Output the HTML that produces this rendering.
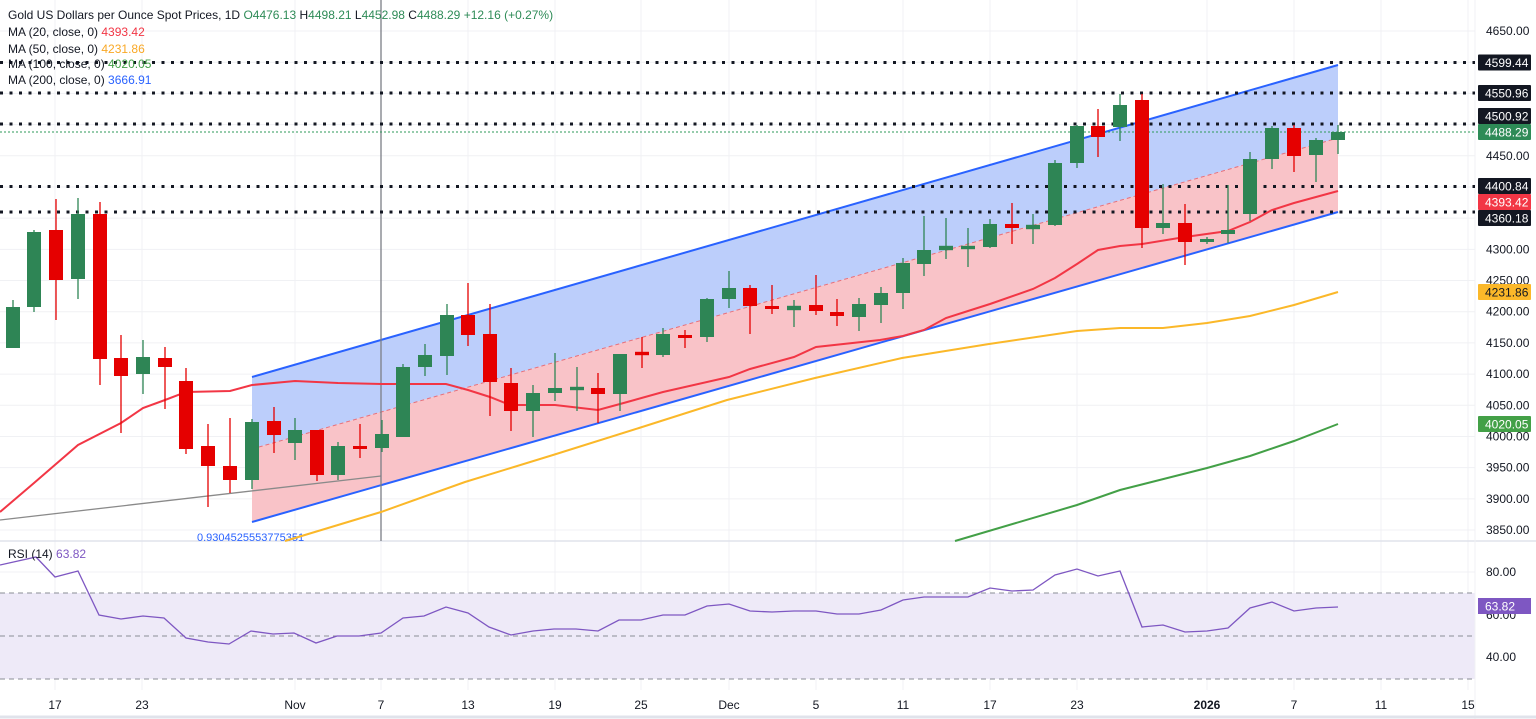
<!DOCTYPE html>
<html><head><meta charset="utf-8"><style>
html,body{margin:0;padding:0;background:#fff;}
svg{display:block;font-family:"Liberation Sans",sans-serif;}
</style></head><body>
<svg id="s" width="1536" height="719" viewBox="0 0 1536 719" xmlns="http://www.w3.org/2000/svg">
<rect width="1536" height="719" fill="#fff"/>
<g id="grid" stroke="#f0f1f4" stroke-width="1"></g>
<!-- RSI band -->
<rect x="0" y="593" width="1475" height="86" fill="#eeeaf8"/>
<g stroke="#8a8d96" stroke-width="1" stroke-dasharray="5,4">
<line x1="0" y1="593" x2="1475" y2="593"/><line x1="0" y1="636" x2="1475" y2="636"/><line x1="0" y1="679" x2="1475" y2="679"/>
</g>
<line x1="0" y1="541" x2="1536" y2="541" stroke="#e0e3eb" stroke-width="1.5"/>
<line x1="1475" y1="0" x2="1475" y2="719" stroke="#f0f1f4"/>
<!-- channel -->
<polygon points="252,377 1338,65 1338,138 252,449" fill="#bccefb"/>
<polygon points="252,449 1338,138 1338,212 252,522" fill="#f9c3c8"/>
<line x1="252" y1="449" x2="1338" y2="138" stroke="#e8707a" stroke-width="1" stroke-dasharray="4,3"/>
<line x1="252" y1="377" x2="1338" y2="65" stroke="#2962ff" stroke-width="2"/>
<line x1="252" y1="522" x2="1338" y2="212" stroke="#2962ff" stroke-width="2"/>
<line x1="0" y1="520" x2="381" y2="476" stroke="#8a8a8a" stroke-width="1.3"/>
<line x1="381" y1="0" x2="381" y2="541" stroke="#7b7e86" stroke-width="1.3"/>
<text x="197" y="541" font-size="11" fill="#2962ff">0.9304525553775351</text>
<!-- dotted levels -->
<g stroke="#131722" stroke-width="3" stroke-dasharray="3,6.5">
<line x1="0" y1="62.5" x2="1475" y2="62.5"/><line x1="0" y1="93" x2="1475" y2="93"/><line x1="0" y1="124" x2="1475" y2="124"/><line x1="0" y1="186.5" x2="1475" y2="186.5"/><line x1="0" y1="212" x2="1475" y2="212"/>
</g>
<line x1="0" y1="132" x2="1475" y2="132" stroke="#2e9a5a" stroke-width="1" stroke-dasharray="2,2"/>
<g id="ma" fill="none" stroke-width="2"></g>
<g id="c"></g>
<polyline id="rsi" fill="none" stroke="#7e57c2" stroke-width="1.3"/>
<!-- legend -->
<g font-size="12" fill="#131722">
<text x="8" y="19">Gold US Dollars per Ounce Spot Prices, 1D <tspan fill="#2e8b57">O</tspan><tspan fill="#2e8b57">4476.13</tspan>  H<tspan fill="#2e8b57">4498.21</tspan>  L<tspan fill="#2e8b57">4452.98</tspan>  C<tspan fill="#2e8b57">4488.29</tspan>  <tspan fill="#2e8b57">+12.16 (+0.27%)</tspan></text>
<text x="8" y="36">MA (20, close, 0)  <tspan fill="#f23645">4393.42</tspan></text>
<text x="8" y="53">MA (50, close, 0)  <tspan fill="#f9a825">4231.86</tspan></text>
<text x="8" y="68">MA (100, close, 0)  <tspan fill="#43a047">4020.05</tspan></text>
<text x="8" y="84">MA (200, close, 0)  <tspan fill="#2962ff">3666.91</tspan></text>
<text x="8" y="558">RSI (14)  <tspan fill="#7e57c2">63.82</tspan></text>
</g>
<!-- right axis -->
<g font-size="12" fill="#131722" id="ax"></g>
<g font-size="12" fill="#131722" text-anchor="middle">
<text x="55" y="709">17</text><text x="142" y="709">23</text><text x="295" y="709">Nov</text><text x="381" y="709">7</text><text x="468" y="709">13</text><text x="555" y="709">19</text><text x="641" y="709">25</text><text x="729" y="709">Dec</text><text x="816" y="709">5</text><text x="903" y="709">11</text><text x="990" y="709">17</text><text x="1077" y="709">23</text><text x="1207" y="709" font-weight="bold">2026</text><text x="1294" y="709">7</text><text x="1381" y="709">11</text><text x="1468" y="709">15</text>
</g>
<line x1="0" y1="717" x2="1536" y2="717" stroke="#e0e3eb" stroke-width="3"/>
</svg>
<script>
var NS="http://www.w3.org/2000/svg";
function el(t,a,p){var e=document.createElementNS(NS,t);for(var k in a)e.setAttribute(k,a[k]);(p||document.getElementById('s')).appendChild(e);return e;}
function Y(p){return 31+(4650-p)*0.6238;}
var g=document.getElementById('grid');
for(var p=3850;p<=4650;p+=50)el('line',{x1:0,y1:Y(p),x2:1475,y2:Y(p)},g);
[572,636,657].forEach(function(y){el('line',{x1:0,y1:y,x2:1475,y2:y},g)});
[55,142,295,381,468,555,641,729,816,903,990,1077,1207,1294,1381,1468].forEach(function(x){el('line',{x1:x,y1:0,x2:x,y2:690},g)});
// MAs
var ma=document.getElementById('ma');
function pl(pts,c){el('polyline',{points:pts,stroke:c},ma);}
pl("0,512 34,483 78,445 121,423 143,408 165,400 186,392 230,391 252,385 295,381 338,383 382,384 446,384 468,390 490,397 510,405 555,405 598,410 620,404 663,392 685,387 729,377 750,369 794,357 816,347 880,340 903,336 924,330 946,318 968,311 990,304 1033,289 1055,278 1077,264 1098,250 1120,246 1142,244 1185,237 1228,231 1250,222 1272,210 1294,203 1338,191","#f23645");
pl("285,541 381,512 465,482 553,455 639,428 727,400 815,378 902,358 989,344 1077,331 1120,328 1163,328 1207,323 1250,316 1294,305 1338,292","#fbb829");
pl("955,541 1077,505 1120,490 1207,468 1250,456 1294,441 1338,424","#43a047");
// candles [x, o, c, h, l] in pixel y
var C=[[13,348,307,300,348],[34,307,232,230,312],[56,230,280,199,320],[78,279,214,198,299],[100,214,359,202,385],[121,358,376,335,433],[143,374,357,340,394],[165,358,367,347,409],[186,381,449,368,454],[208,446,466,424,507],[230,466,480,418,493],[252,480,422,419,489],[274,421,435,407,453],[295,443,430,418,460],[317,430,475,430,481],[338,475,446,442,480],[360,446,449,424,458],[382,448,434,420,452],[403,437,367,364,437],[425,367,355,344,376],[447,356,315,304,375],[468,315,335,283,346],[490,334,382,304,416],[511,383,411,368,431],[533,411,393,385,437],[555,393,388,353,401],[577,389,388,367,411],[598,388,394,373,423],[620,394,354,354,411],[642,353,354,337,368],[663,355,334,328,357],[685,335,338,330,348],[707,337,299,298,342],[729,299,288,271,308],[750,288,306,285,334],[772,306,309,285,314],[794,309,307,300,327],[816,305,311,275,315],[837,312,316,299,326],[859,317,304,298,331],[881,305,293,287,323],[903,293,263,258,309],[924,264,250,216,276],[946,249,247,218,259],[968,248,247,228,267],[990,247,224,219,248],[1012,224,228,203,244],[1033,228,226,214,244],[1055,225,163,160,226],[1077,163,126,125,168],[1098,126,137,109,157],[1120,127,105,94,141],[1142,100,228,94,248],[1163,228,223,184,234],[1185,223,242,204,265],[1207,242,239,237,244],[1228,234,230,185,243],[1250,214,159,152,221],[1272,159,128,126,169],[1294,128,156,125,172],[1316,155,140,138,182],[1338,140,132,125,154]];
var cg=document.getElementById('c');
C.forEach(function(d){var up=d[2]<=d[1];var col=up?'#2e8555':'#e50000';
el('line',{x1:d[0],y1:d[3],x2:d[0],y2:d[4],stroke:col,'stroke-width':1.3},cg);
var t=Math.min(d[1],d[2]),b=Math.max(d[1],d[2]);if(b-t<2.5){t-=1.2;b+=1.2;}
el('rect',{x:d[0]-7,y:t,width:14,height:b-t,fill:col},cg);});
document.getElementById('rsi').setAttribute('points',"0,565 36,557 55,577 78,571 99,615 121,619 143,616 164,618 186,638 208,642 229,644 251,631 273,634 294,633 316,643 337,636 359,636 381,633 403,618 424,616 446,607 468,613 489,627 511,635 533,631 554,629 576,629 598,631 619,620 641,620 663,615 685,615 707,606 729,604 750,611 772,612 794,611 816,611 837,614 859,614 881,610 903,600 924,597 946,597 968,597 990,588 1012,591 1033,590 1055,575 1077,569 1098,576 1120,571 1142,627 1163,625 1185,632 1207,631 1228,628 1250,608 1272,602 1294,611 1316,608 1338,607");
// axis
var ax=document.getElementById('ax');
[4650,4450,4300,4250,4200,4150,4100,4050,4000,3950,3900,3850].forEach(function(p){var t=el('text',{x:1486,y:Y(p)+4},ax);t.textContent=p.toFixed(2);});
[[80,572],[60,615],[40,657]].forEach(function(r){var t=el('text',{x:1486,y:r[1]+4},ax);t.textContent=r[0].toFixed(2);});
function lab(v,y,bg,fg){el('rect',{x:1478,y:y-8,width:53,height:16,fill:bg,rx:1},ax);var t=el('text',{x:1485,y:y+4.5,fill:fg||'#fff'},ax);t.textContent=v;}
lab('4599.44',62.5,'#131722');lab('4550.96',93,'#131722');lab('4500.92',116,'#131722');lab('4488.29',132,'#2e8b57');
lab('4400.84',186,'#131722');lab('4393.42',202,'#f23645');lab('4360.18',218,'#131722');
lab('4231.86',292,'#fbb829','#131722');lab('4020.05',424,'#43a047');
el('rect',{x:1478,y:598,width:53,height:16,fill:'#7e57c2'},ax);var t=el('text',{x:1485,y:610.5,fill:'#fff'},ax);t.textContent='63.82';
</script>
</body></html>
